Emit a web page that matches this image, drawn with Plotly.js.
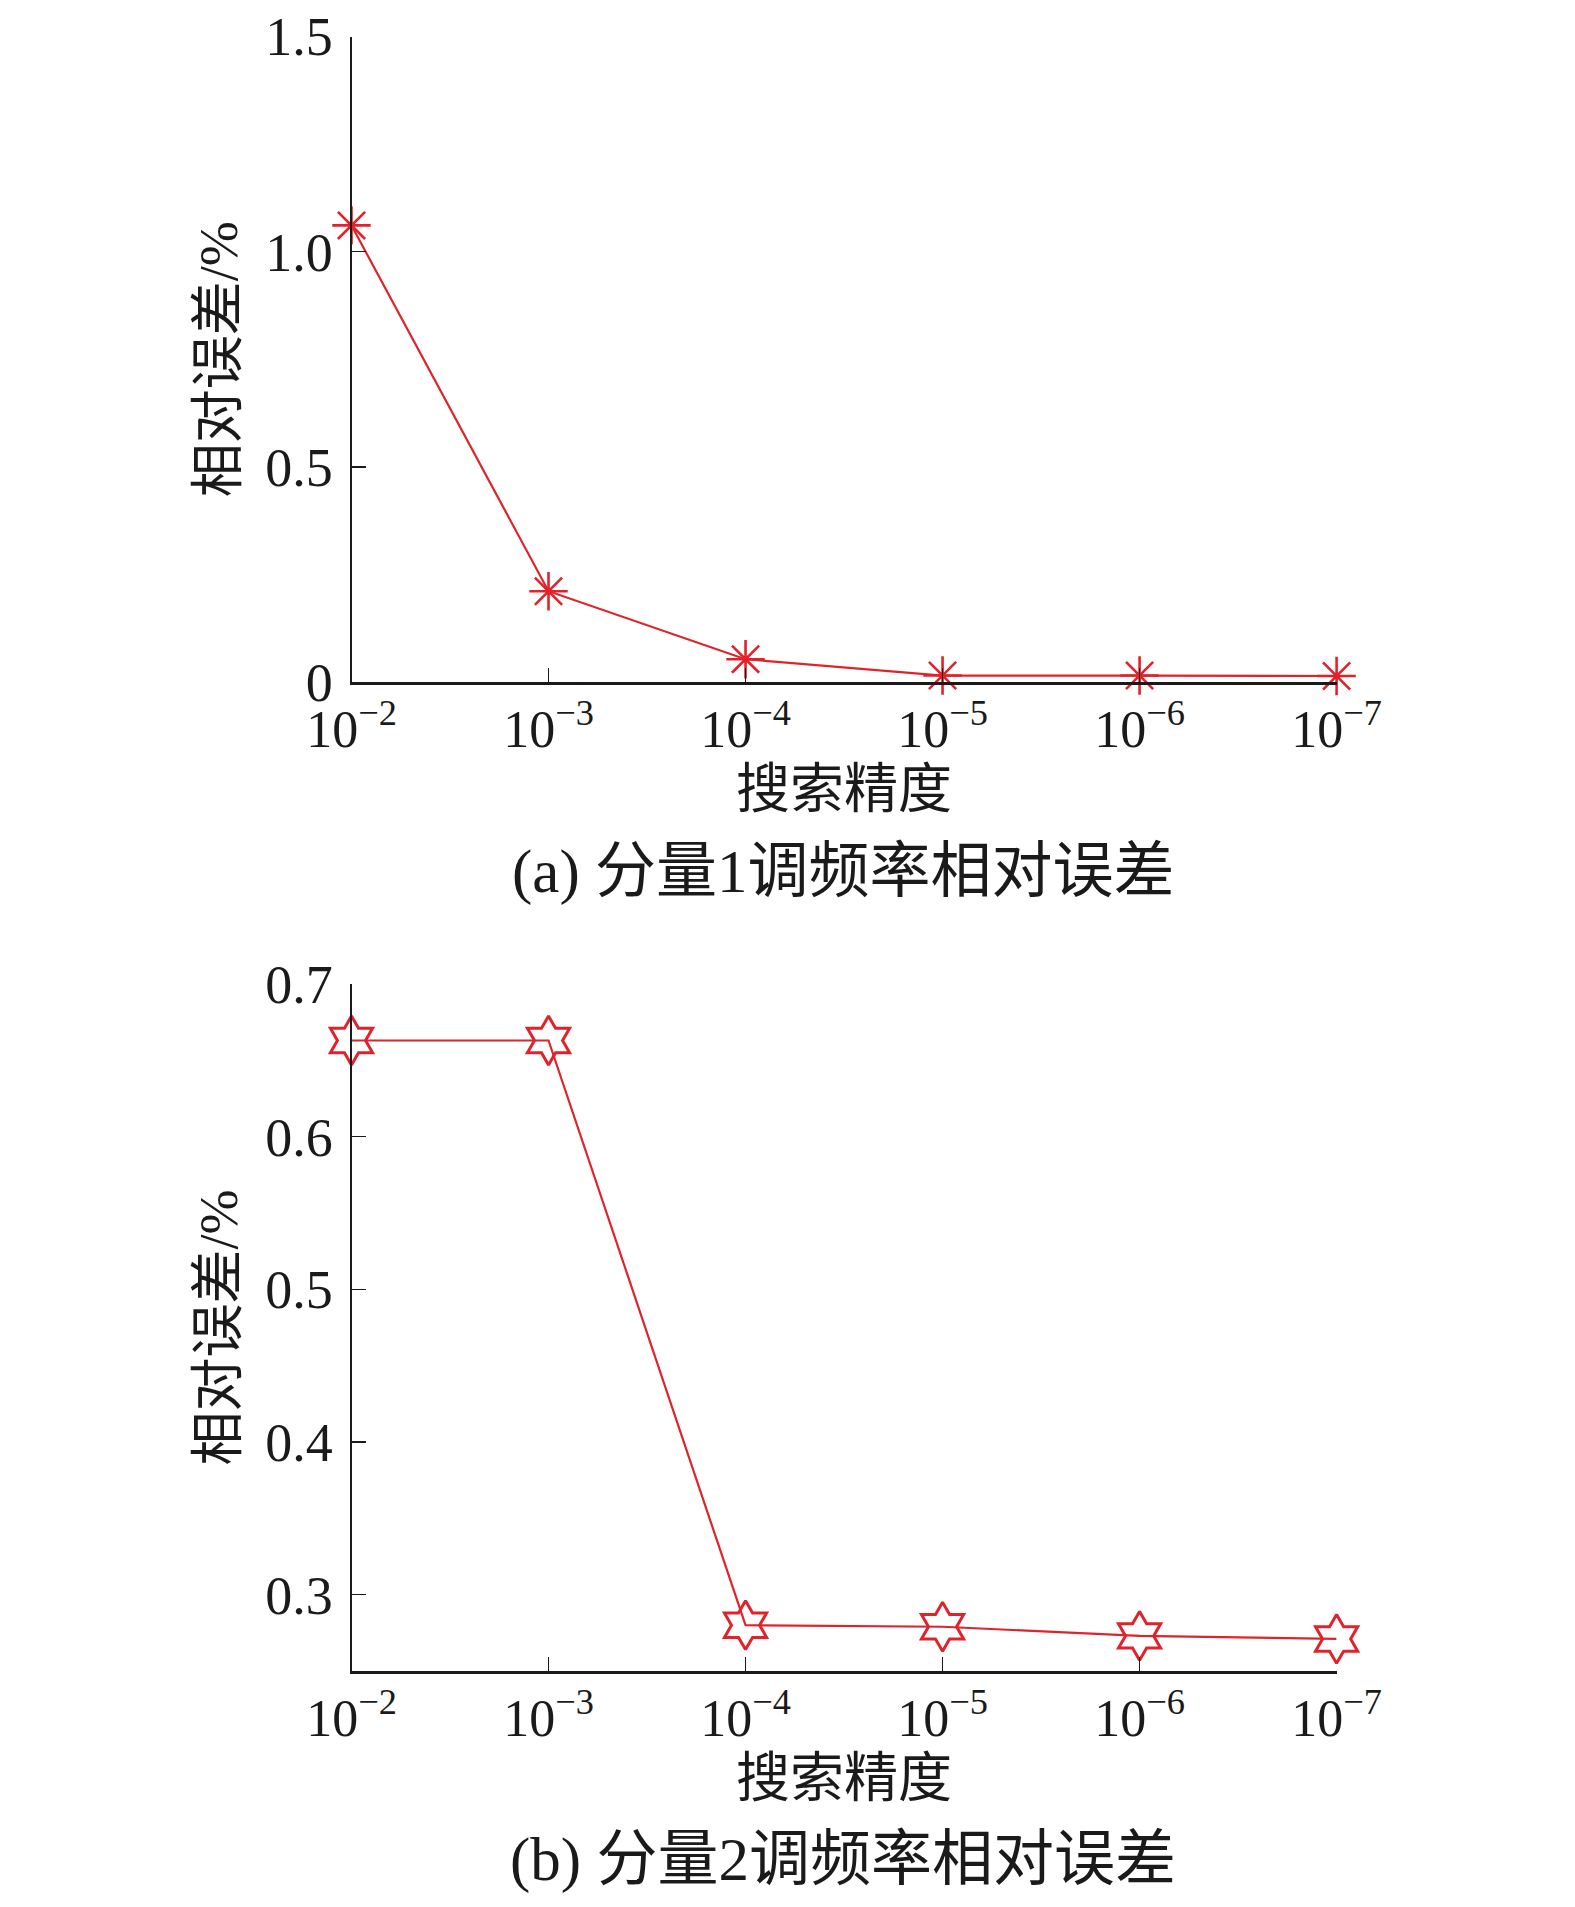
<!DOCTYPE html>
<html>
<head>
<meta charset="utf-8">
<script src="https://cdn.plot.ly/plotly-3.0.1.min.js"></script>
<style>html,body{margin:0;padding:0;background:#fff;}#chart{width:1575px;height:1907px;}</style>
</head>
<body>
<div id="chart"></div>
<script>
// Data
const precisionPos = [0, 1, 2, 3, 4, 5];
const precisionLabels = ['10<sup>−2</sup>', '10<sup>−3</sup>', '10<sup>−4</sup>', '10<sup>−5</sup>', '10<sup>−6</sup>', '10<sup>−7</sup>'];
const err1 = [1.061, 0.211, 0.053, 0.015, 0.015, 0.014];
const err2 = [0.663, 0.663, 0.280, 0.279, 0.273, 0.271];
const y1Ticks = [0, 0.5, 1.0, 1.5];
const y1Labels = ['0', '0.5', '1.0', '1.5'];
const y2Ticks = [0.3, 0.4, 0.5, 0.6, 0.7];
const y2Labels = ['0.3', '0.4', '0.5', '0.6', '0.7'];
const xTitle = '搜索精度';
const yTitle = '相对误差/%';
const caption1 = '(a) 分量1调频率相对误差';
const caption2 = '(b) 分量2调频率相对误差';

const RED = '#e0232b';
const FONT = 'Liberation Serif, "Times New Roman", "Noto Sans CJK SC", serif';

const xDomain = [351.5/1575, 1336.6/1575];
const y1Domain = [1 - 682/1907, 1 - 36.5/1907];
const y2Domain = [1 - 1671/1907, 1 - 984/1907];

function xAxis(anchor) {
  return {
    domain: xDomain, anchor: anchor, range: [0, 5],
    tickmode: 'array', tickvals: precisionPos, ticktext: precisionLabels,
    showline: true, linecolor: '#1a1a1a', linewidth: 2.5,
    ticks: 'inside', ticklen: 14, tickwidth: 1.5, tickcolor: '#1a1a1a',
    showgrid: false, zeroline: false,
    tickfont: {family: FONT, size: 52, color: '#1a1a1a'},
    ticklabelstandoff: 0,
    title: {text: xTitle, font: {family: FONT, size: 54, color: '#1a1a1a'}, standoff: 14}
  };
}
function yAxis(anchor, domain, range, tv, tt) {
  return {
    domain: domain, anchor: anchor, range: range,
    tickmode: 'array', tickvals: tv, ticktext: tt,
    showline: true, linecolor: '#1a1a1a', linewidth: 2,
    ticks: 'inside', ticklen: 14, tickwidth: 1.5, tickcolor: '#1a1a1a',
    showgrid: false, zeroline: false,
    tickfont: {family: FONT, size: 54, color: '#1a1a1a'},
    ticklabelstandoff: 6,
    title: {text: yTitle, font: {family: FONT, size: 54, color: '#1a1a1a'}, standoff: 10}
  };
}

const traces = [
  {
    x: precisionPos, y: err1, xaxis: 'x', yaxis: 'y', type: 'scatter', mode: 'lines+markers',
    line: {color: RED, width: 2.2}, cliponaxis: false,
    marker: {symbol: 'asterisk-open', size: 32, color: RED, line: {color: RED, width: 2.6}}
  },
  {
    x: precisionPos, y: err2, xaxis: 'x2', yaxis: 'y2', type: 'scatter', mode: 'lines+markers',
    line: {color: RED, width: 2.2}, cliponaxis: false,
    marker: {symbol: 'hexagram-open', size: 37, color: RED, line: {color: RED, width: 3}}
  }
];

const layout = {
  width: 1575, height: 1907,
  margin: {l: 0, r: 0, t: 0, b: 0},
  paper_bgcolor: '#ffffff', plot_bgcolor: '#ffffff',
  showlegend: false,
  font: {family: FONT, color: '#1a1a1a'},
  xaxis: xAxis('y'),
  yaxis: yAxis('x', y1Domain, [0, 1.5], y1Ticks, y1Labels),
  xaxis2: xAxis('y2'),
  yaxis2: yAxis('x2', y2Domain, [0.25, 0.7], y2Ticks, y2Labels),
  annotations: [
    {text: caption1, xref: 'paper', yref: 'paper', x: 843/1575, y: 1 - 872/1907, xanchor: 'center', yanchor: 'middle', showarrow: false, font: {family: FONT, size: 61, color: '#1a1a1a'}},
    {text: caption2, xref: 'paper', yref: 'paper', x: 843/1575, y: 1 - 1860/1907, xanchor: 'center', yanchor: 'middle', showarrow: false, font: {family: FONT, size: 61, color: '#1a1a1a'}}
  ]
};

Plotly.newPlot('chart', traces, layout, {staticPlot: true, displayModeBar: false});
</script>
</body>
</html>
